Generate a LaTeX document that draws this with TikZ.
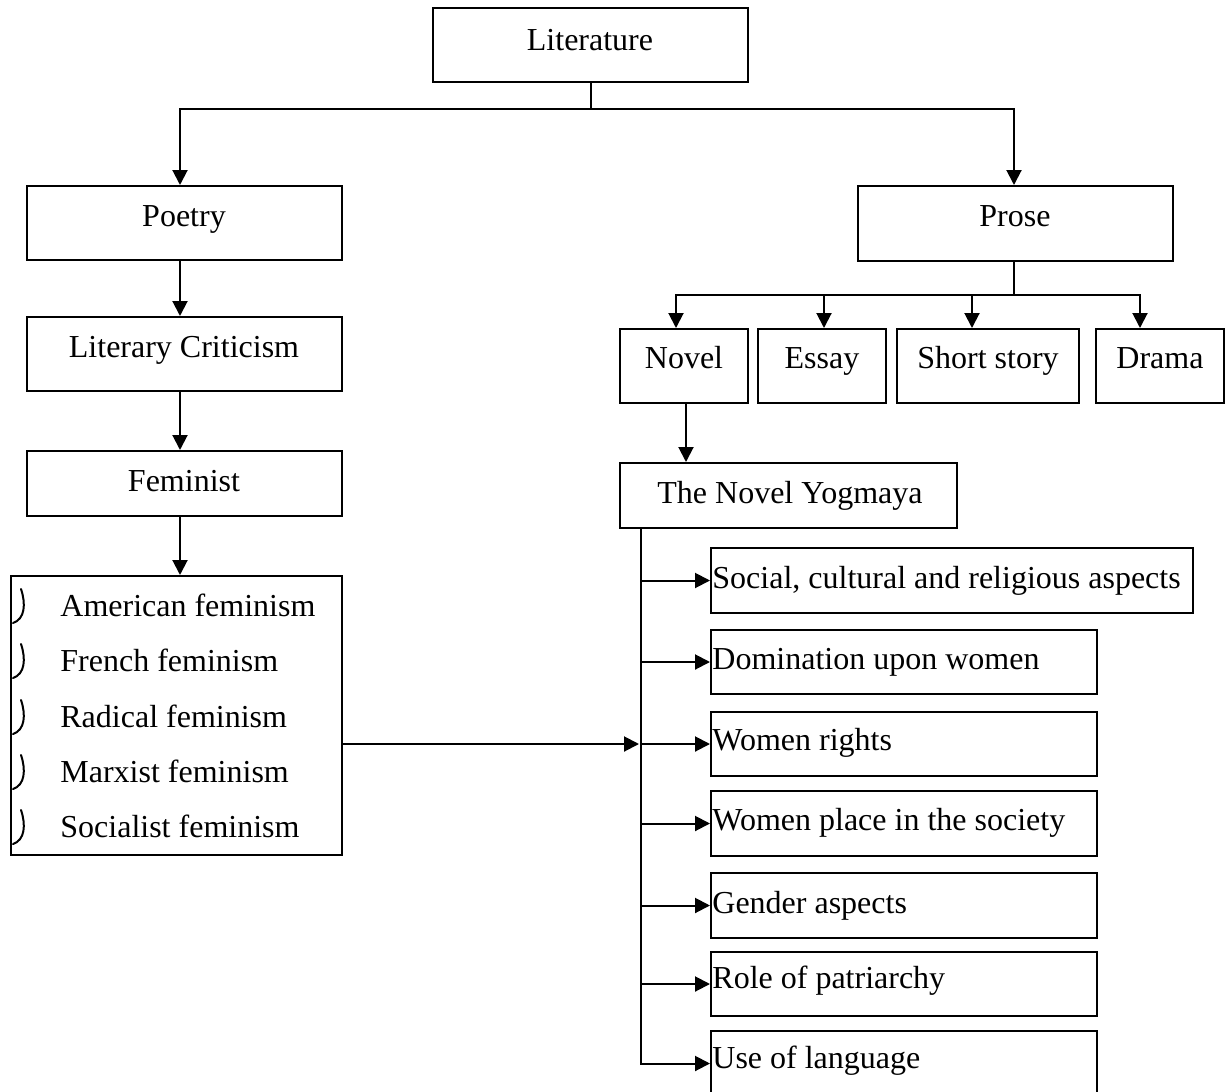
\documentclass[tikz,border=0pt]{standalone}
\usepackage{fontspec}
\setmainfont{Liberation Serif}
\usetikzlibrary{arrows.meta,fit}
\tikzset{
  box/.style={draw, line width=1pt, inner sep=0pt},
  lbl/.style={anchor=base, inner sep=0pt, font=\fontsize{16}{19}\selectfont},
  lbll/.style={anchor=base west, inner sep=0pt, font=\fontsize{16}{19}\selectfont},
  conn/.style={line width=1pt},
  arr/.style={line width=1pt, -{Triangle[length=7.5pt,width=7.5pt]}},
  bul/.style={line width=1pt, line cap=round}
}
\begin{document}
\begin{tikzpicture}[x=0.5pt,y=-0.5pt]
\useasboundingbox (0,0) rectangle (1227,1092);
\clip (0,0) rectangle (1227,1092);
% top boxes
\node[box, fit={(433,8) (748,82)}] (lit) {};
\node[lbl] (litT) at (590,50) {Literature};
\node[box, fit={(27,186) (342,260)}] (poetry) {};
\node[lbl] (poetryT) at (184,226) {Poetry};
\node[box, fit={(858,186) (1173,261)}] (prose) {};
\node[lbl] (proseT) at (1015,226) {Prose};
\node[box, fit={(27,317) (342,391)}] (lc) {};
\node[lbl] (lcT) at (184,357) {Literary Criticism};
\node[box, fit={(27,451) (342,516)}] (fem) {};
\node[lbl] (femT) at (184,491) {Feminist};
\node[box, fit={(11,576) (342,855)}] (list) {};
\node[lbll] (l1) at (60,616) {American feminism};
\node[lbll] (l2) at (60,671) {French feminism};
\node[lbll] (l3) at (60,727) {Radical feminism};
\node[lbll] (l4) at (60,782) {Marxist feminism};
\node[lbll] (l5) at (60,837) {Socialist feminism};
\foreach \b in {616,671,727,782,837}{
  \draw[bul] (21,\b-27) .. controls (26,\b-12) and (25,\b+3) .. (13,\b+7);
}
% prose children
\node[box, fit={(620,329) (748,403)}] (novel) {};
\node[lbl] (novelT) at (684,368) {Novel};
\node[box, fit={(758,329) (886,403)}] (essay) {};
\node[lbl] (essayT) at (822,368) {Essay};
\node[box, fit={(897,329) (1079,403)}] (short) {};
\node[lbl] (shortT) at (988,368) {Short story};
\node[box, fit={(1096,329) (1224,403)}] (drama) {};
\node[lbl] (dramaT) at (1160,368) {Drama};
\node[box, fit={(620,463) (957,528)}] (ym) {};
\node[lbl] (ymT) at (790,503) {The Novel Yogmaya};
% aspect boxes
\node[box, fit={(711,548) (1193,613)}] (r1) {};
\node[lbll] (r1T) at (712,588) {Social, cultural and religious aspects};
\node[box, fit={(711,630) (1097,694)}] (r2) {};
\node[lbll] (r2T) at (712,669) {Domination upon women};
\node[box, fit={(711,712) (1097,776)}] (r3) {};
\node[lbll] (r3T) at (712,750) {Women rights};
\node[box, fit={(711,791) (1097,856)}] (r4) {};
\node[lbll] (r4T) at (712,830) {Women place in the society};
\node[box, fit={(711,873) (1097,938)}] (r5) {};
\node[lbll] (r5T) at (712,913) {Gender aspects};
\node[box, fit={(711,952) (1097,1016)}] (r6) {};
\node[lbll] (r6T) at (712,988) {Role of patriarchy};
\node[box, fit={(711,1031) (1097,1096)}] (r7) {};
\node[lbll] (r7T) at (712,1068) {Use of language};
% connectors
\coordinate (hubrow) at (0,109);
\coordinate (hub) at (lit.south |- hubrow);
\coordinate (cL) at (180,0);
\draw[conn] (lit.south) -- (hub);
\draw[arr] (hub) -| (poetry.north -| cL);
\draw[arr] (hub) -| ([xshift=-0.75pt]prose.north);
\draw[arr] (poetry.south -| cL) -- (lc.north -| cL);
\draw[arr] (lc.south -| cL) -- (fem.north -| cL);
\draw[arr] (fem.south -| cL) -- (list.north -| cL);
\coordinate (hub2row) at (0,295);
\coordinate (hub2) at ([xshift=-0.75pt]prose.south |- hub2row);
\draw[conn] ([xshift=-0.75pt]prose.south) -- (hub2);
\draw[arr] (hub2) -| ([xshift=-4pt]novel.north);
\draw[arr] (hub2) -| ([xshift=1pt]essay.north);
\draw[arr] (hub2) -| ([xshift=-8pt]short.north);
\draw[arr] (hub2) -| ([xshift=-10pt]drama.north);
\draw[arr] ([xshift=1pt]novel.south) -- ([xshift=1pt]novel.south |- ym.north);
\coordinate (spine) at (641,528);
\draw[arr] (spine) |- (r7.west);
\foreach \r in {r1,r2,r3,r4,r5,r6}{
  \draw[arr] (spine |- \r.west) -- (\r.west);
}
\draw[arr] (list.east |- r3.west) -- ([xshift=-1pt]spine |- r3.west);
\end{tikzpicture}
\end{document}
